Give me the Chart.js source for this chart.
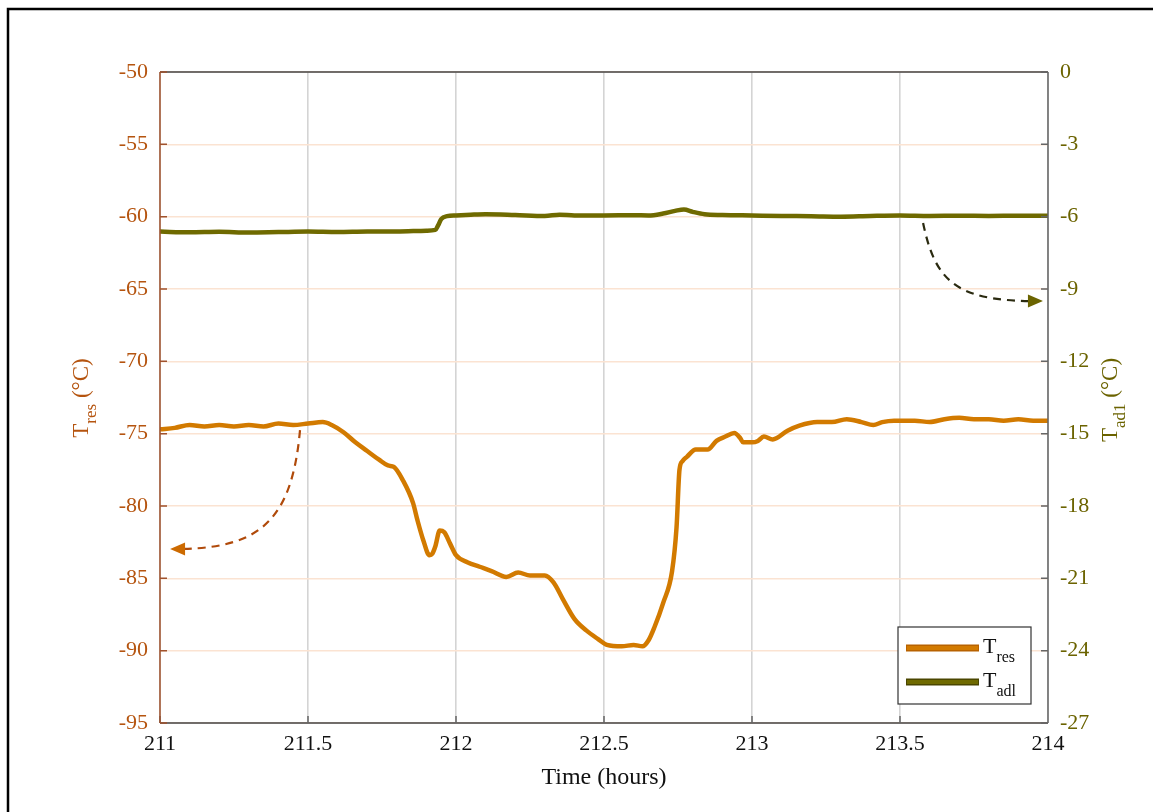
<!DOCTYPE html>
<html>
<head>
<meta charset="utf-8">
<script src="https://cdn.jsdelivr.net/npm/chart.js@4.4.1/dist/chart.umd.min.js"></script>
<style>
  html, body { margin: 0; padding: 0; background: #fff; }
  #wrap { width: 1153px; height: 812px; }
</style>
</head>
<body>
<div id="wrap"><canvas id="tempChart"></canvas></div>
<script>
// tiempos (horas) y temperaturas
const resTime = [211.00, 211.05, 211.10, 211.15, 211.20, 211.25, 211.30, 211.35, 211.40, 211.45,
    211.50, 211.55, 211.58, 211.62, 211.66, 211.70, 211.74, 211.77, 211.79, 211.82,
    211.855, 211.87, 211.89, 211.91, 211.92, 211.93, 211.945, 211.96, 211.98, 212.00,
    212.04, 212.08, 212.12, 212.17, 212.21, 212.25, 212.30, 212.33, 212.36, 212.40,
    212.44, 212.48, 212.51, 212.56, 212.60, 212.63, 212.65, 212.67, 212.70, 212.73,
    212.745, 212.755, 212.765, 212.78, 212.81, 212.85, 212.88, 212.91, 212.94, 212.96,
    212.97, 213.00, 213.02, 213.04, 213.07, 213.12, 213.16, 213.22, 213.27, 213.32,
    213.37, 213.41, 213.44, 213.48, 213.55, 213.60, 213.65, 213.70, 213.75, 213.80,
    213.85, 213.90, 213.95, 214.00];
const resTemp = [-74.7, -74.6, -74.4, -74.5, -74.4, -74.5, -74.4, -74.5, -74.3, -74.4,
    -74.3, -74.2, -74.4, -74.9, -75.6, -76.2, -76.8, -77.2, -77.3, -78.2,
    -79.8, -81.0, -82.4, -83.4, -83.3, -82.8, -81.7, -81.8, -82.6, -83.4,
    -83.9, -84.2, -84.5, -84.9, -84.6, -84.8, -84.8, -85.3, -86.4, -87.8,
    -88.6, -89.2, -89.6, -89.7, -89.6, -89.7, -89.3, -88.4, -86.7, -84.5,
    -81.5, -77.5, -76.9, -76.6, -76.1, -76.1, -75.5, -75.2, -74.95, -75.3,
    -75.6, -75.6, -75.5, -75.2, -75.4, -74.8, -74.45, -74.2, -74.2, -74.0,
    -74.2, -74.4, -74.2, -74.1, -74.1, -74.2, -74.0, -73.9, -74.0, -74.0,
    -74.1, -74.0, -74.1, -74.1];

const adlTime = [211.00, 211.10, 211.20, 211.30, 211.40, 211.50, 211.60, 211.70, 211.80, 211.90,
    211.93, 211.94, 211.95, 211.97, 212.00, 212.05, 212.10, 212.20, 212.30, 212.35,
    212.40, 212.50, 212.60, 212.65, 212.70, 212.74, 212.77, 212.80, 212.84, 212.90,
    213.00, 213.10, 213.20, 213.30, 213.40, 213.50, 213.60, 213.70, 213.80, 213.90, 214.00];
const adlTemp = [-6.62, -6.65, -6.63, -6.66, -6.64, -6.62, -6.64, -6.62, -6.62, -6.58,
    -6.55, -6.35, -6.10, -5.98, -5.95, -5.92, -5.90, -5.93, -5.97, -5.92,
    -5.95, -5.95, -5.94, -5.95, -5.87, -5.76, -5.70, -5.80, -5.90, -5.93,
    -5.95, -5.97, -5.98, -6.00, -5.97, -5.95, -5.97, -5.96, -5.97, -5.96, -5.96];

const xTicks = [211, 211.5, 212, 212.5, 213, 213.5, 214];
const leftTicks = [-95, -90, -85, -80, -75, -70, -65, -60, -55, -50];
const rightTicks = [-27, -24, -21, -18, -15, -12, -9, -6, -3, 0];

const C_RES = '#d27a00';
const C_ADL = '#6f6a00';
const C_LEFT = '#b5540f';
const C_RIGHT = '#6b6300';
const FONT = '"Liberation Serif", "Times New Roman", serif';

// texto con subindice: T + sub + resto
function subText(ctx, y, main, sub, rest, size, drop) {
    const ss = Math.round(size * 0.74);
    ctx.font = size + 'px ' + FONT;
    const w1 = ctx.measureText(main).width;
    ctx.font = ss + 'px ' + FONT;
    const w2 = ctx.measureText(sub).width;
    ctx.font = size + 'px ' + FONT;
    const w3 = ctx.measureText(rest).width;
    return { w: w1 + w2 + w3, draw: (ox) => {
        ctx.textAlign = 'left';
        ctx.textBaseline = 'alphabetic';
        ctx.font = size + 'px ' + FONT;
        ctx.fillText(main, ox, y);
        ctx.font = ss + 'px ' + FONT;
        ctx.fillText(sub, ox + w1, y + size * drop);
        ctx.font = size + 'px ' + FONT;
        ctx.fillText(rest, ox + w1 + w2, y);
    } };
}

function arrowCurve(ctx, pts, dashColor, headColor, dir) {
    ctx.save();
    ctx.setLineDash([8, 6]);
    ctx.lineWidth = 2.2;
    ctx.strokeStyle = dashColor;
    ctx.beginPath();
    ctx.moveTo(pts[0][0], pts[0][1]);
    ctx.bezierCurveTo(pts[1][0], pts[1][1], pts[2][0], pts[2][1], pts[3][0], pts[3][1]);
    ctx.stroke();
    ctx.setLineDash([]);
    const tip = pts[4];
    ctx.fillStyle = headColor;
    ctx.beginPath();
    ctx.moveTo(tip[0], tip[1]);
    ctx.lineTo(tip[0] - dir * 15, tip[1] - 6.5);
    ctx.lineTo(tip[0] - dir * 15, tip[1] + 6.5);
    ctx.closePath();
    ctx.fill();
    ctx.restore();
}

Chart.register({
    id: 'figuraDecor',
    afterDatasetsDraw: (chart) => {
        const ctx = chart.ctx;
        const a = chart.chartArea;
        const sx = chart.scales.x, sy = chart.scales.y, sy1 = chart.scales.y1;
        ctx.save();

        // marco de la figura
        ctx.strokeStyle = '#000';
        ctx.lineWidth = 2.5;
        ctx.strokeRect(8, 9, 1160, 820);

        // ejes
        ctx.lineWidth = 1.5;
        ctx.strokeStyle = '#444';
        ctx.beginPath();
        ctx.moveTo(a.left, a.top); ctx.lineTo(a.right, a.top);
        ctx.moveTo(a.left, a.bottom); ctx.lineTo(a.right, a.bottom);
        ctx.stroke();
        ctx.strokeStyle = '#666';
        ctx.beginPath();
        ctx.moveTo(a.right, a.top); ctx.lineTo(a.right, a.bottom);
        xTicks.forEach(v => {
            const px = sx.getPixelForValue(v);
            ctx.moveTo(px, a.bottom); ctx.lineTo(px, a.bottom - 7);
        });
        rightTicks.forEach(v => {
            const py = sy1.getPixelForValue(v);
            ctx.moveTo(a.right, py); ctx.lineTo(a.right - 7, py);
        });
        ctx.stroke();
        ctx.strokeStyle = '#a0522d';
        ctx.beginPath();
        ctx.moveTo(a.left, a.top); ctx.lineTo(a.left, a.bottom);
        leftTicks.forEach(v => {
            const py = sy.getPixelForValue(v);
            ctx.moveTo(a.left, py); ctx.lineTo(a.left + 7, py);
        });
        ctx.stroke();

        // flechas indicando el eje de cada serie
        const L = (x, y) => [sx.getPixelForValue(x), sy.getPixelForValue(y)];
        const R = (x, y) => [sx.getPixelForValue(x), sy1.getPixelForValue(y)];
        arrowCurve(ctx, [L(211.473, -74.75), L(211.446, -80.97), L(211.338, -82.83), L(211.08, -82.97), L(211.034, -82.97)],
            '#b04a0a', '#cc6a00', -1);
        arrowCurve(ctx, [R(213.578, -6.26), R(213.618, -8.63), R(213.686, -9.46), R(213.94, -9.50), R(213.983, -9.50)],
            '#2a2a10', '#6b6400', 1);

        // titulos de ejes
        ctx.fillStyle = '#111';
        ctx.font = '24px ' + FONT;
        ctx.textAlign = 'center';
        ctx.textBaseline = 'alphabetic';
        ctx.fillText('Time (hours)', (a.left + a.right) / 2, 784);

        ctx.save();
        ctx.translate(88, 398);
        ctx.rotate(-Math.PI / 2);
        ctx.fillStyle = C_LEFT;
        let t = subText(ctx, 0, 'T', 'res', ' (°C)', 23, 0.35);
        t.draw(-t.w / 2);
        ctx.restore();

        ctx.save();
        ctx.translate(1117, 400);
        ctx.rotate(-Math.PI / 2);
        ctx.fillStyle = C_RIGHT;
        t = subText(ctx, 0, 'T', 'ad1', ' (°C)', 23, 0.35);
        t.draw(-t.w / 2);
        ctx.restore();

        // leyenda
        const bx = a.right - 150, by = a.bottom - 96, bw = 133, bh = 77;
        ctx.fillStyle = '#fff';
        ctx.fillRect(bx, by, bw, bh);
        ctx.strokeStyle = '#333';
        ctx.lineWidth = 1.2;
        ctx.strokeRect(bx, by, bw, bh);
        [[C_RES, '#b86200', 'res', 21], [C_ADL, '#4a4600', 'adl', 55]].forEach(([c, e, s, dy]) => {
            ctx.fillStyle = e;
            ctx.fillRect(bx + 8, by + dy - 3.5, 73, 7);
            ctx.fillStyle = c;
            ctx.fillRect(bx + 9, by + dy - 2, 71, 4);
            ctx.fillStyle = '#111';
            const lt = subText(ctx, by + dy + 5, 'T', s, '', 22, 0.42);
            lt.draw(bx + 85);
        });
        ctx.restore();
    }
});

const ctx = document.getElementById('tempChart').getContext('2d');

const tempChart = new Chart(ctx, {
    type: 'line',
    data: {
        datasets: [{
            label: 'T_res',
            data: resTime.map((t, i) => ({ x: t, y: resTemp[i] })),
            yAxisID: 'y',
            borderColor: C_RES,
            borderWidth: 4.5,
            pointRadius: 0,
            cubicInterpolationMode: 'monotone',
            fill: false
        }, {
            label: 'T_adl',
            data: adlTime.map((t, i) => ({ x: t, y: adlTemp[i] })),
            yAxisID: 'y1',
            borderColor: C_ADL,
            borderWidth: 4.5,
            pointRadius: 0,
            cubicInterpolationMode: 'monotone',
            fill: false
        }]
    },
    options: {
        responsive: true,
        maintainAspectRatio: false,
        animation: false,
        layout: { padding: { top: 72, left: 0, right: 0, bottom: 0 } },
        plugins: {
            legend: { display: false },
            tooltip: { enabled: false }
        },
        scales: {
            x: {
                type: 'linear',
                min: 211, max: 214,
                afterFit: s => { s.height = 89; },
                afterBuildTicks: s => { s.ticks = xTicks.map(v => ({ value: v })); },
                ticks: {
                    color: '#111',
                    padding: 8,
                    font: { family: FONT, size: 22 },
                    callback: v => String(v)
                },
                grid: { color: '#d4d4d4', lineWidth: 1.6, drawTicks: false },
                border: { display: false }
            },
            y: {
                position: 'left',
                min: -95, max: -50,
                afterFit: s => { s.width = 160; },
                afterBuildTicks: s => { s.ticks = leftTicks.map(v => ({ value: v })); },
                ticks: {
                    color: C_LEFT,
                    padding: 12,
                    font: { family: FONT, size: 22 }
                },
                grid: { color: '#fbe3d2', lineWidth: 1.5, drawTicks: false },
                border: { display: false }
            },
            y1: {
                position: 'right',
                min: -27, max: 0,
                afterFit: s => { s.width = 105; },
                afterBuildTicks: s => { s.ticks = rightTicks.map(v => ({ value: v })); },
                ticks: {
                    color: C_RIGHT,
                    padding: 12,
                    font: { family: FONT, size: 22 }
                },
                grid: { display: false, drawTicks: false },
                border: { display: false }
            }
        }
    }
});
</script>
</body>
</html>
